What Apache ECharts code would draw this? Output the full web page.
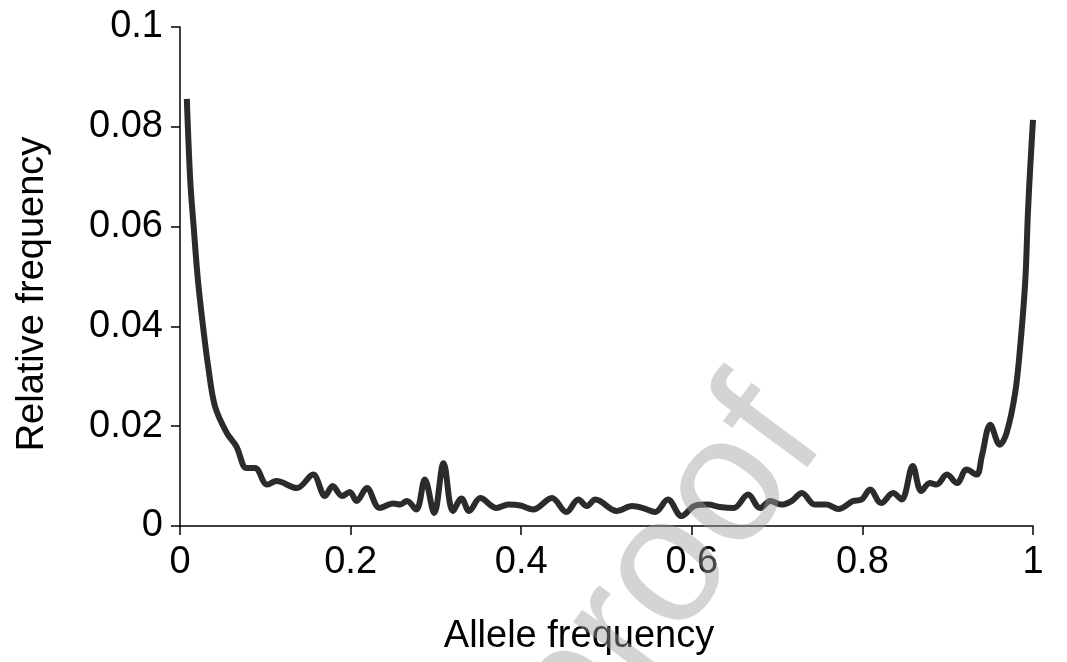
<!DOCTYPE html>
<html>
<head>
<meta charset="utf-8">
<script src="https://cdn.jsdelivr.net/npm/echarts@6/dist/echarts.min.js"></script>
<style>
  html, body { margin: 0; padding: 0; background: #fff; }
  #main { width: 1067px; height: 662px; }
</style>
</head>
<body>
<div id="main"></div>
<script>
// allele frequency spectrum
var alleleFreq = [
  0.008, 0.012, 0.016, 0.021, 0.027, 0.033, 0.041, 0.055, 0.066, 0.078,
  0.088, 0.102, 0.113, 0.137, 0.156, 0.170, 0.179, 0.190, 0.199, 0.207,
  0.219, 0.234, 0.250, 0.258, 0.266, 0.277, 0.287, 0.298, 0.309, 0.320,
  0.330, 0.339, 0.352, 0.371, 0.385, 0.399, 0.414, 0.436, 0.453, 0.467,
  0.477, 0.487, 0.512, 0.530, 0.543, 0.557, 0.572, 0.588, 0.604, 0.619,
  0.633, 0.649, 0.666, 0.680, 0.692, 0.705, 0.717, 0.729, 0.744, 0.758,
  0.772, 0.789, 0.799, 0.809, 0.822, 0.836, 0.846, 0.859, 0.869, 0.879,
  0.887, 0.899, 0.911, 0.922, 0.934, 0.940, 0.950, 0.961, 0.969, 0.979,
  0.985, 0.991, 0.994, 0.997, 1.000
];
var relFreq = [
  0.0856, 0.0693, 0.0600, 0.0493, 0.0400, 0.0320, 0.0240, 0.0186, 0.0160, 0.0116,
  0.0116, 0.0083, 0.0090, 0.0076, 0.0103, 0.0060, 0.0080, 0.0060, 0.0068, 0.0050,
  0.0076, 0.0036, 0.0045, 0.0043, 0.0050, 0.0033, 0.0093, 0.0026, 0.0126, 0.0030,
  0.0055, 0.0030, 0.0056, 0.0036, 0.0043, 0.0041, 0.0033, 0.0056, 0.0028, 0.0053,
  0.0040, 0.0053, 0.0030, 0.0040, 0.0036, 0.0028, 0.0053, 0.0020, 0.0041, 0.0043,
  0.0038, 0.0036, 0.0063, 0.0036, 0.0050, 0.0043, 0.0050, 0.0066, 0.0043, 0.0043,
  0.0034, 0.0050, 0.0053, 0.0073, 0.0046, 0.0066, 0.0053, 0.0120, 0.0070, 0.0086,
  0.0083, 0.0103, 0.0086, 0.0113, 0.0103, 0.0140, 0.0203, 0.0163, 0.0186, 0.0266,
  0.0360, 0.0493, 0.0626, 0.0726, 0.0814
];
var xTicks = [0, 0.2, 0.4, 0.6, 0.8, 1];
var yTicks = [0, 0.02, 0.04, 0.06, 0.08, 0.1];

var seriesData = alleleFreq.map(function (x, i) {
  return [x, relFreq[i]];
});

var fontFam = '"Liberation Sans", Arial, sans-serif';

var option = {
  animation: false,
  backgroundColor: '#fff',
  grid: {
    left: 180,
    right: 34,
    top: 27,
    bottom: 136
  },
  xAxis: {
    type: 'value',
    min: 0,
    max: 1,
    interval: 0.2,
    name: 'Allele frequency',
    nameLocation: 'middle',
    nameGap: 92,
    nameTextStyle: {
      fontFamily: fontFam,
      fontSize: 38,
      color: '#000',
      padding: [0, 55, 0, 0]
    },
    axisLine: { lineStyle: { color: '#000', width: 1.5 } },
    axisTick: { show: true, length: 9, inside: false, lineStyle: { color: '#000', width: 1.5 } },
    axisLabel: {
      margin: 18,
      fontFamily: fontFam,
      fontSize: 38,
      color: '#000',
      formatter: function (v) {
        return xTicks.indexOf(+v.toFixed(1)) >= 0 ? String(+v.toFixed(1)) : '';
      }
    },
    splitLine: { show: false }
  },
  yAxis: {
    type: 'value',
    min: 0,
    max: 0.1,
    interval: 0.02,
    name: 'Relative frequency',
    nameLocation: 'middle',
    nameGap: 128,
    nameTextStyle: {
      fontFamily: fontFam,
      fontSize: 38,
      color: '#000',
      padding: [0, 35, 0, 0]
    },
    axisLine: { show: true, lineStyle: { color: '#000', width: 1.5 } },
    axisTick: { show: true, length: 9, inside: false, lineStyle: { color: '#000', width: 1.5 } },
    axisLabel: {
      margin: 17,
      fontFamily: fontFam,
      fontSize: 38,
      color: '#000',
      formatter: function (v) {
        return String(+v.toFixed(2));
      }
    },
    splitLine: { show: false }
  },
  series: [
    {
      name: 'spectrum',
      type: 'line',
      data: seriesData,
      smooth: 0.35,
      showSymbol: false,
      clip: false,
      lineStyle: { color: '#2b2b2b', width: 6 },
      z: 2
    }
  ],
  graphic: [
    {
      type: 'text',
      x: 860,
      y: 464,
      rotation: 0.93,
      z: 100,
      style: {
        text: 'Journal Pre-proof',
        font: '180px "Liberation Sans", Arial, sans-serif',
        fill: 'rgba(160,160,160,0.45)',
        textAlign: 'right',
        textVerticalAlign: 'bottom'
      }
    }
  ]
};

var chartDom = document.getElementById('main');
var chart = echarts.init(chartDom);
chart.setOption(option);
</script>
</body>
</html>
